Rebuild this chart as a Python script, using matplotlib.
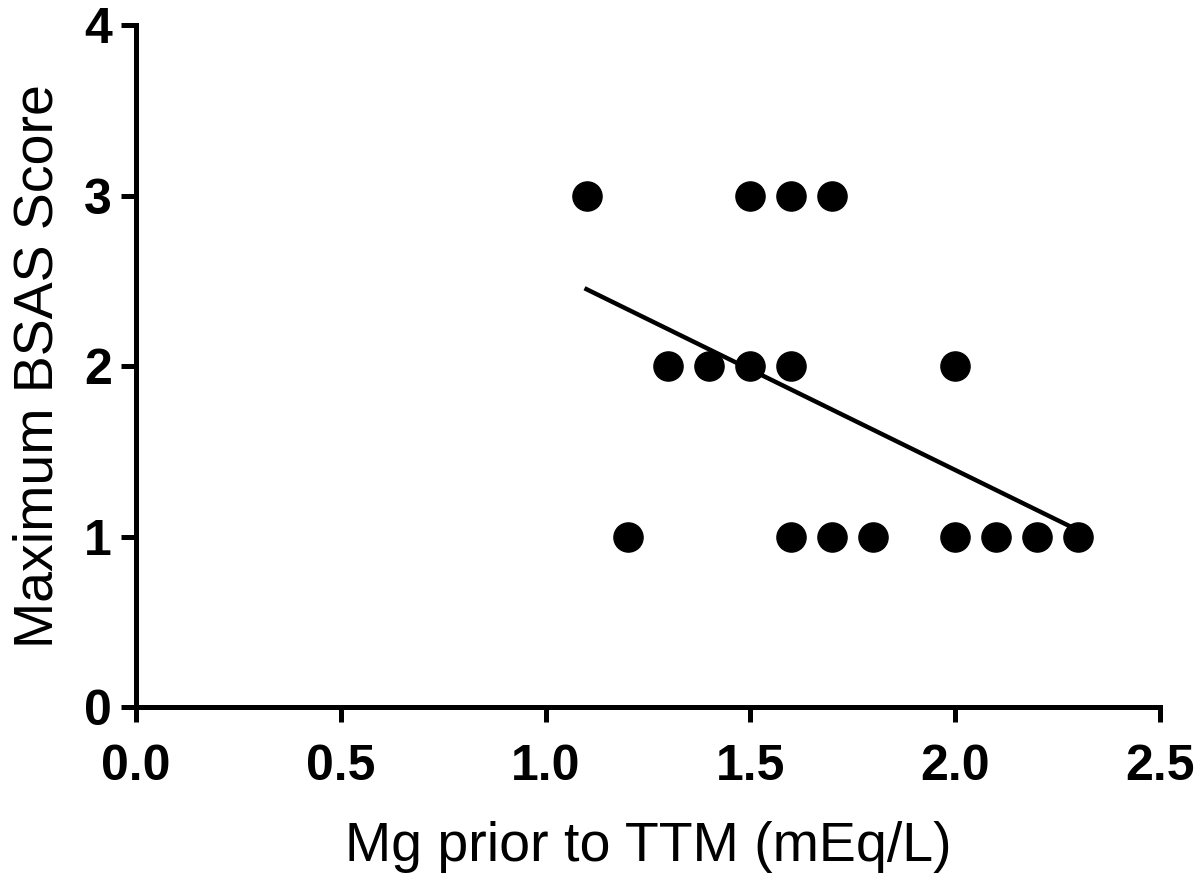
import numpy as np
import matplotlib
matplotlib.use("Agg")
import matplotlib.pyplot as plt

# === Data ===
mg_values = [1.1, 1.5, 1.6, 1.7,
             1.3, 1.4, 1.5, 1.6, 2.0,
             1.2, 1.6, 1.7, 1.8, 2.0, 2.1, 2.2, 2.3]
bsas_scores = [3, 3, 3, 3,
               2, 2, 2, 2, 2,
               1, 1, 1, 1, 1, 1, 1, 1]
x_ticks = [0.0, 0.5, 1.0, 1.5, 2.0, 2.5]
y_ticks = [0, 1, 2, 3, 4]

plt.rcParams["font.family"] = ["Liberation Sans", "DejaVu Sans"]

fig = plt.figure(figsize=(12, 8.75), dpi=100)
ax = fig.add_axes([0.113, 0.192, 0.854, 0.779])

x = np.array(mg_values)
y = np.array(bsas_scores)

ax.plot(x, y, "o", color="black", markersize=21, zorder=3, clip_on=False)

# linear fit across the data range
slope, intercept = np.polyfit(x, y, 1)
xfit = np.array([x.min(), x.max()])
ax.plot(xfit, slope * xfit + intercept, color="black", linewidth=3.2, zorder=2)

ax.set_xlim(0, 2.5)
ax.set_ylim(0, 4)
ax.set_xticks(x_ticks)
ax.set_xticklabels([f"{t:.1f}" for t in x_ticks])
ax.set_yticks(y_ticks)

for side in ["top", "right"]:
    ax.spines[side].set_visible(False)
for side in ["left", "bottom"]:
    ax.spines[side].set_linewidth(3.6)

ax.tick_params(axis="both", direction="out", length=11, width=3.6,
               labelsize=36, pad=6)
ax.tick_params(axis="x", pad=16)
for lbl in ax.get_xticklabels() + ax.get_yticklabels():
    lbl.set_fontweight("bold")

ax.set_xlabel("Mg prior to TTM (mEq/L)", fontsize=40, labelpad=22)
ax.set_ylabel("Maximum BSAS Score", fontsize=40, labelpad=14)

fig.savefig("out.png", dpi=100, facecolor="white")
